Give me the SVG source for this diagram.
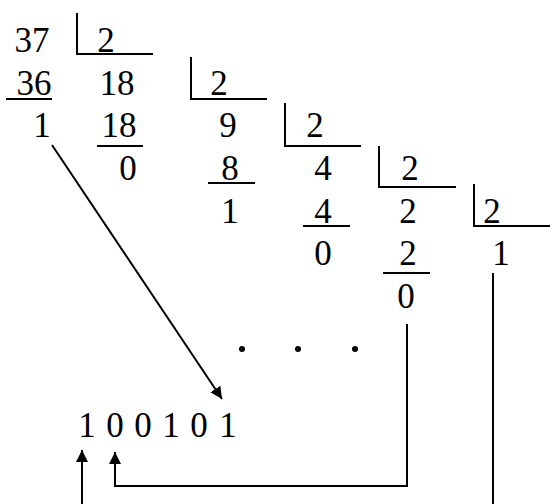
<svg xmlns="http://www.w3.org/2000/svg" width="550" height="504" viewBox="0 0 550 504">
<style>
text{font-family:"Liberation Serif","Times New Roman",serif;font-size:35px;fill:#000;text-anchor:middle}
.ln{stroke:#000;stroke-width:2;fill:none}
</style>
<defs>
<marker id="ah" viewBox="0 0 10 10" refX="10" refY="5" markerWidth="6" markerHeight="6" markerUnits="strokeWidth" orient="auto">
<path d="M0,0 L10,5 L0,10 z" fill="#000"/>
</marker>
</defs>
<rect width="550" height="504" fill="#fff"/>
<g id="step1">
<text x="32" y="52">37</text>
<text x="106" y="52">2</text>
<path class="ln" d="M77,13 V54 H153"/>
<text x="34" y="95">36</text>
<path class="ln" d="M6,99 H52"/>
<text x="117" y="95">18</text>
<text x="42" y="137">1</text>
</g>
<g id="step2">
<text x="219" y="95">2</text>
<path class="ln" d="M191,57 V99 H267"/>
<text x="119" y="137">18</text>
<path class="ln" d="M97,146 H143"/>
<text x="228" y="137">9</text>
<text x="128" y="180">0</text>
</g>
<g id="step3">
<text x="315" y="137">2</text>
<path class="ln" d="M285,103 V146 H361"/>
<text x="230" y="180">8</text>
<path class="ln" d="M208,183 H255"/>
<text x="323" y="180">4</text>
<text x="230" y="223">1</text>
</g>
<g id="step4">
<text x="410" y="180">2</text>
<path class="ln" d="M379,146 V187 H456"/>
<text x="323" y="223">4</text>
<path class="ln" d="M303,226 H350"/>
<text x="408" y="223">2</text>
<text x="323" y="265">0</text>
</g>
<g id="step5">
<text x="492" y="223">2</text>
<path class="ln" d="M474,184 V226 H550"/>
<text x="408" y="265">2</text>
<path class="ln" d="M383,273 H430"/>
<text x="501" y="265">1</text>
<text x="406" y="308">0</text>
</g>
<g id="dots">
<circle cx="242" cy="349" r="3"/>
<circle cx="298" cy="349" r="3"/>
<circle cx="355" cy="349" r="3"/>
</g>
<g id="result">
<text y="437"><tspan x="87">1</tspan><tspan x="115">0</tspan><tspan x="143">0</tspan><tspan x="171">1</tspan><tspan x="199">0</tspan><tspan x="228">1</tspan></text>
</g>
<g id="connectors">
<path class="ln" d="M52,145 L222,399" marker-end="url(#ah)"/>
<path class="ln" d="M407,324 V486 H115 V452" marker-end="url(#ah)"/>
<path class="ln" d="M493,273 V510"/>
<path class="ln" d="M82,510 V450" marker-end="url(#ah)"/>
</g>
</svg>
